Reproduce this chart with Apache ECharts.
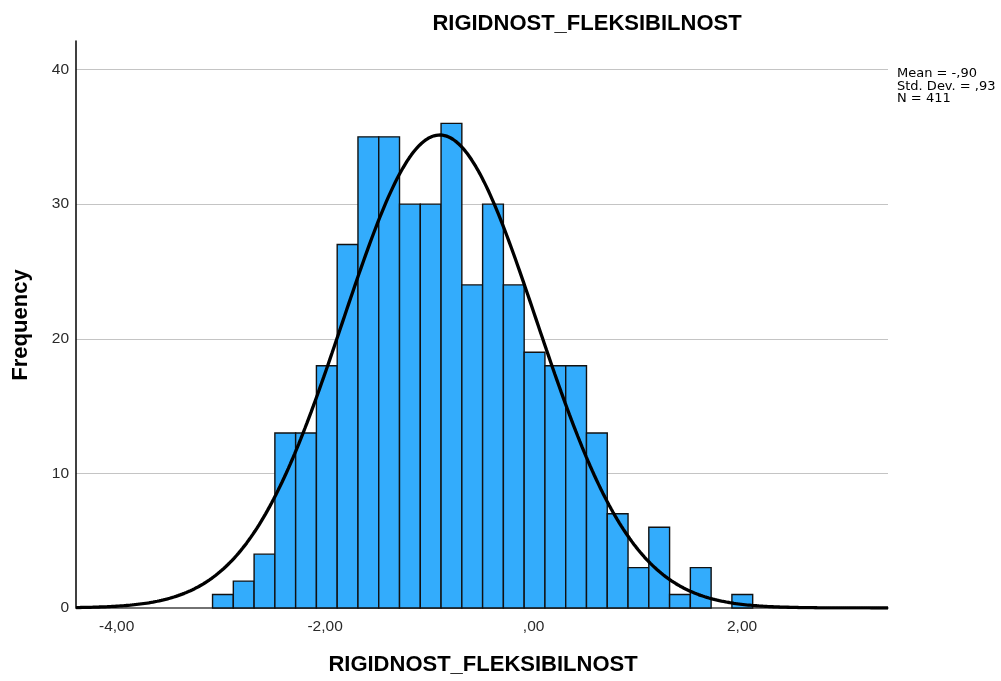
<!DOCTYPE html>
<html><head><meta charset="utf-8">
<script src="https://cdn.jsdelivr.net/npm/echarts@6/dist/echarts.min.js"></script>
<style>html,body{margin:0;padding:0;background:#fff}#c{width:1001px;height:681px}</style>
</head><body><div id="c"></div>
<script>
const chartTitle = 'RIGIDNOST_FLEKSIBILNOST';
const xAxisTitle = 'RIGIDNOST_FLEKSIBILNOST';
const yAxisTitle = 'Frequency';
const binStart = -3.08;
const binWidth = 0.1993;
const binCounts = [1,2,4,13,13,18,27,35,35,30,30,36,24,30,24,19,18,18,13,7,3,6,1,3,0,1];
const statLines = ['Mean = -,90', 'Std. Dev. = ,93', 'N = 411'];
const curveMean = -0.90, curveSD = 0.93, curveN = 411;
const xTickValues = [-4, -2, 0, 2];
const xTickLabels = ['-4,00', '-2,00', ',00', '2,00'];
const xMin = -4.39, xMax = 3.40, yMax = 42.12;

const barData = binCounts.map((c, i) => [binStart + i * binWidth, binStart + (i + 1) * binWidth, c]);
const curveData = [];
for (let k = 0; k <= 390; k++) {
  const x = xMin + (xMax - xMin) * k / 390;
  const z = (x - curveMean) / curveSD;
  curveData.push([x, curveN * binWidth / (curveSD * Math.sqrt(2 * Math.PI)) * Math.exp(-0.5 * z * z)]);
}

const chart = echarts.init(document.getElementById('c'), null, {renderer: 'canvas'});
chart.setOption({
  animation: false,
  backgroundColor: '#ffffff',
  textStyle: {fontFamily: 'Liberation Sans, Arial, sans-serif'},
  grid: {left: 76, right: 113, top: 41, bottom: 73, containLabel: false},
  xAxis: {
    type: 'value', min: xMin, max: xMax,
    axisLine: {show: true, onZero: false, lineStyle: {color: '#444444', width: 1.5}},
    axisTick: {show: false},
    splitLine: {show: false},
    axisLabel: {
      customValues: xTickValues,
      fontSize: 15.5, color: '#2a2a2a', margin: 11,
      formatter: v => { const i = xTickValues.indexOf(Math.round(v * 100) / 100); return i >= 0 ? xTickLabels[i] : ''; }
    }
  },
  yAxis: {
    type: 'value', min: 0, max: yMax, interval: 10,
    axisLine: {show: true, onZero: false, lineStyle: {color: '#000000', width: 1.5}},
    axisTick: {show: false},
    axisLabel: {fontSize: 15.5, color: '#2a2a2a', margin: 7, padding: [7, 0, 0, 0], showMaxLabel: false},
    splitLine: {show: true, showMaxLine: false, showMinLine: false, lineStyle: {color: '#c4c4c4', width: 1}}
  },
  series: [
    {
      type: 'custom',
      data: barData,
      encode: {x: [0, 1], y: 2},
      z: 2,
      renderItem: (params, api) => {
        if (api.value(2) <= 0) return null;
        const p0 = api.coord([api.value(0), api.value(2)]);
        const p1 = api.coord([api.value(1), 0]);
        return {
          type: 'rect',
          shape: {x: p0[0], y: p0[1], width: p1[0] - p0[0], height: p1[1] - p0[1]},
          style: {fill: '#33acfc', stroke: '#111111', lineWidth: 1.4}
        };
      }
    },
    {
      type: 'line', data: curveData, showSymbol: false, symbol: 'none', z: 3,
      lineStyle: {color: '#000000', width: 3.3}
    }
  ],
  graphic: [
    {type: 'text', x: 587, y: 24, z: 10, style: {text: chartTitle, font: 'bold 22px "Liberation Sans", Arial, sans-serif', fill: '#000', textAlign: 'center', textVerticalAlign: 'middle'}},
    {type: 'text', x: 483, y: 665, z: 10, style: {text: xAxisTitle, font: 'bold 22px "Liberation Sans", Arial, sans-serif', fill: '#000', textAlign: 'center', textVerticalAlign: 'middle'}},
    {type: 'text', x: 21, y: 325, rotation: Math.PI / 2, z: 10, style: {text: yAxisTitle, font: 'bold 22px "Liberation Sans", Arial, sans-serif', fill: '#000', textAlign: 'center', textVerticalAlign: 'middle'}},
    {type: 'text', x: 897, y: 68, z: 10, style: {text: statLines.join('\n'), font: '13px "DejaVu Sans", sans-serif', lineHeight: 12.2, fill: '#000', textAlign: 'left', textVerticalAlign: 'top'}}
  ]
});
</script></body></html>
